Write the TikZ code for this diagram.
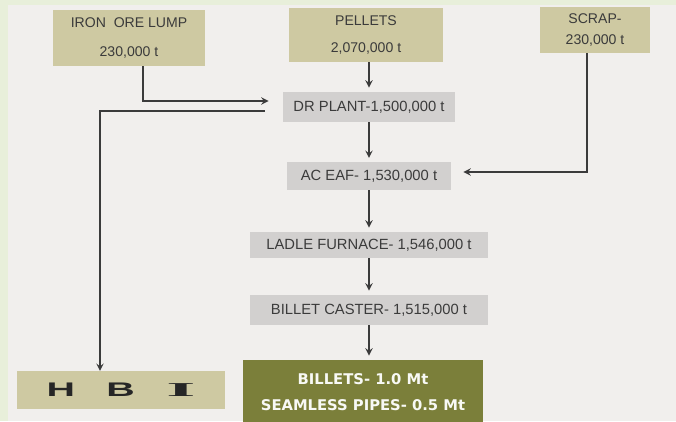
\documentclass[tikz,border=0pt]{standalone}
\usepackage{fontspec}
\setmainfont{Liberation Sans}
\newfontfamily\wideface{DejaVu Sans}
\newfontfamily\serifface{Liberation Serif}
\usepackage{graphicx}
\usepackage{tikz}

\definecolor{paper}{HTML}{F1EFED}
\definecolor{paleedge}{HTML}{E8EFDA}
\definecolor{tanbox}{HTML}{CEC9A2}
\definecolor{greybox}{HTML}{D2D0CF}
\definecolor{olivebox}{HTML}{7B7F3A}
\definecolor{inkgrey}{HTML}{3B3B3B}

\begin{document}
\begin{tikzpicture}[x=0.025cm, y=-0.025cm, >=stealth, semithick,
    rawbox/.style={fill=tanbox, align=center, text=inkgrey, inner sep=0pt,
        font=\fontsize{10}{12}\selectfont},
    plantbox/.style={fill=greybox, align=center, text=inkgrey, inner sep=0pt,
        font=\fontsize{10.5}{12}\selectfont},
    flow/.style={->, draw=inkgrey, line width=1.3pt}]

    % Background
    \fill[paper] (0,0) rectangle (676,421);
    \fill[paleedge] (0,0) rectangle (676,5);
    \fill[paleedge] (0,0) rectangle (8,421);
    \useasboundingbox (0,0) rectangle (676,421);

    % Define nodes
    \node (ore) [rawbox, minimum width=3.8cm, minimum height=1.4cm] at (129,38)
        {IRON\ \ ORE LUMP\\[8pt]230,000 t};
    \node (pellets) [rawbox, minimum width=3.83cm, minimum height=1.35cm] at (366,35)
        {PELLETS\\[7pt]2,070,000 t};
    \node (scrap) [rawbox, minimum width=2.75cm, minimum height=1.15cm] at (595,30)
        {SCRAP-\\[3pt]230,000 t};
    \node (dr) [plantbox, minimum width=4.3cm, minimum height=0.75cm] at (369,107)
        {DR PLANT-1,500,000 t};
    \node (eaf) [plantbox, minimum width=4.1cm, minimum height=0.68cm] at (369,176)
        {AC EAF- 1,530,000 t};
    \node (ladle) [plantbox, minimum width=5.95cm, minimum height=0.65cm] at (369,245)
        {LADLE FURNACE- 1,546,000 t};
    \node (caster) [plantbox, minimum width=5.95cm, minimum height=0.75cm] at (369,310)
        {BILLET CASTER- 1,515,000 t};
    \node (billets) [fill=olivebox, text=white!95!olivebox, align=center, inner sep=0pt,
        minimum width=6cm, minimum height=1.6cm,
        font=\wideface\fontsize{10.5}{12}\selectfont\bfseries] at (363,392)
        {BILLETS- 1.0 Mt\\[7pt]SEAMLESS PIPES- 0.5 Mt};
    \node (hbi) [fill=tanbox, inner sep=0pt, minimum width=5.2cm, minimum height=0.93cm,
        text=black!85, font=\fontsize{14}{15}\selectfont\bfseries] at (121,390)
        {\scalebox{2}[1]{H\hspace{0.8em}B\hspace{0.8em}\scalebox{1.9}[1]{\serifface I}}};

    % Feed lines into the DR plant and the EAF
    \draw[flow, shorten >=0.35cm] ([xshift=0.35cm]ore.south) |- ([yshift=0.15cm]dr.west);
    \draw[flow, shorten >=0.1cm] (pellets.south -| dr.north) -- (dr.north);
    \draw[flow, shorten >=0.3cm] ([xshift=-0.2cm]scrap.south) |- ([yshift=0.1cm]eaf.east);

    % DR plant out to HBI
    \draw[flow, shorten <=0.45cm] ([yshift=-0.1cm]dr.west) -| ([xshift=-0.525cm]hbi.north);

    % Steel route
    \draw[flow, shorten >=0.1cm] (dr) -- (eaf);
    \draw[flow, shorten >=0.1cm] (eaf) -- (ladle);
    \draw[flow, shorten >=0.1cm] (ladle) -- (caster);
    \draw[flow, shorten >=0.1cm] (caster.south) -- (caster.south |- billets.north);

\end{tikzpicture}
\end{document}
